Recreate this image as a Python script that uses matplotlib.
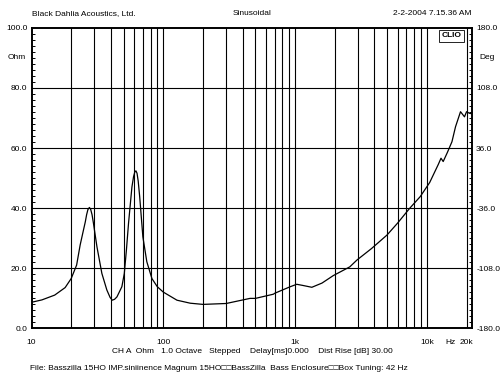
import matplotlib
matplotlib.use("Agg")
import matplotlib.pyplot as plt
from matplotlib.ticker import MultipleLocator, FixedLocator, NullFormatter

plt.rcParams['font.family'] = ['Liberation Sans', 'DejaVu Sans']

# impedance curve
freq = [10, 12, 15, 18, 20, 22, 23.4, 24.8, 25.6, 26.2, 26.8, 27.5, 28.1, 28.8, 29.5, 31.4,
        34.2, 37.3, 39.5, 41, 42.7, 44.5, 48.5, 50.6, 52.5, 54.5, 57.8, 59.5, 60.8, 62, 63.2,
        64.5, 66.2, 70, 75, 82, 90, 100, 127, 160, 200, 300, 455, 500, 685, 700, 920, 1030,
        1150, 1340, 1600, 1950, 2600, 2950, 3800, 4980, 6000, 7400, 8900, 10500, 12200,
        12800, 13300, 14300, 15500, 16500, 18000, 19300, 20000, 21000, 22000]
ohm = [8.6, 9.4, 11.0, 13.5, 16.5, 21.0, 27.7, 32.7, 35.4, 37.8, 39.5, 40.2, 39.6, 37.8, 35.0, 27.0,
       18.2, 12.7, 10.2, 9.3, 9.6, 10.4, 13.8, 18.2, 26.0, 35.0, 47.0, 50.5, 52.0, 52.4, 51.6,
       49.0, 43.8, 30.4, 22.1, 16.5, 13.8, 12.0, 9.3, 8.3, 7.9, 8.2, 9.9, 9.9, 11.3, 11.6, 13.8,
       14.6, 14.2, 13.6, 15.0, 17.5, 20.4, 22.7, 26.5, 31.0, 35.0, 39.9, 43.8, 48.5, 54.5,
       56.6, 55.5, 58.5, 62.1, 67.1, 72.1, 70.4, 72.1, 71.6, 71.4]

y_ticks = [0, 20, 40, 60, 80, 100]
deg_ticks = [-180, -108, -36, 36, 108, 180]
x_grid = [20, 30, 40, 50, 60, 70, 80, 90, 100, 200, 300, 400, 500, 600, 700, 800, 900,
          1000, 2000, 3000, 4000, 5000, 6000, 7000, 8000, 9000, 10000, 20000]
x_labels = {10: "10", 100: "100", 1000: "1k", 10000: "10k", 15000: "Hz", 20000: "20k"}

fig = plt.figure(figsize=(5.04, 3.78), dpi=100)
ax = fig.add_axes([0.0625, 0.132, 0.874, 0.794])
ax.set_xscale('log')
ax.set_xlim(10, 22000)
ax.set_ylim(0, 100)

for xv in x_grid:
    ax.axvline(xv, color='black', lw=0.8, zorder=1)
for yv in y_ticks[1:-1]:
    ax.axhline(yv, color='black', lw=0.8, zorder=1)

ax.plot(freq, ohm, color='black', lw=0.9, zorder=3)

for s in ax.spines.values():
    s.set_linewidth(1.2)

ax.xaxis.set_major_locator(FixedLocator([]))
ax.xaxis.set_minor_locator(FixedLocator([]))
ax.xaxis.set_minor_formatter(NullFormatter())
ax.yaxis.set_major_locator(FixedLocator(y_ticks))
ax.yaxis.set_minor_locator(MultipleLocator(2))
ax.set_yticklabels(["%.1f" % v for v in y_ticks], fontsize=6)
ax.tick_params(axis='y', which='minor', direction='in', length=2.5, width=0.7)
ax.tick_params(axis='y', which='major', length=0, pad=3)

ax2 = ax.twinx()
ax2.set_ylim(-180, 180)
ax2.yaxis.set_major_locator(FixedLocator(deg_ticks))
ax2.yaxis.set_minor_locator(MultipleLocator(7.2))
ax2.set_yticklabels(["%.1f" % v for v in deg_ticks], fontsize=6)
ax2.tick_params(axis='y', which='minor', direction='in', length=2.5, width=0.7)
ax2.tick_params(axis='y', which='major', length=0, pad=3)
for s in ax2.spines.values():
    s.set_linewidth(1.2)

for xv, t in x_labels.items():
    ax.text(xv, -3.5, t, ha='center', va='top', fontsize=6)

ax.text(-0.033, 0.9, "Ohm", transform=ax.transAxes, ha='center', va='center', fontsize=6)
ax2.text(1.035, 0.9, "Deg", transform=ax2.transAxes, ha='center', va='center', fontsize=6)

ax.text(0.977, 0.985, "CLIO", transform=ax.transAxes, ha='right', va='top', fontsize=6,
        fontweight='bold', zorder=5,
        bbox=dict(boxstyle='square,pad=0.3', facecolor='white', edgecolor='black', lw=0.6))

fig.text(0.063, 0.965, "Black Dahlia Acoustics, Ltd.", ha='left', va='center', fontsize=6)
fig.text(0.5, 0.965, "Sinusoidal", ha='center', va='center', fontsize=6)
fig.text(0.936, 0.965, "2-2-2004 7.15.36 AM", ha='right', va='center', fontsize=6)
fig.text(0.5, 0.069, "CH A  Ohm   1.0 Octave   Stepped    Delay[ms]0.000    Dist Rise [dB] 30.00",
         ha='center', va='center', fontsize=6)
fig.text(0.06, 0.026, "File: Basszilla 15HO IMP.siniinence Magnum 15HO\u25a1\u25a1BassZilla  Bass Enclosure\u25a1\u25a1Box Tuning: 42 Hz",
         ha='left', va='center', fontsize=6)

fig.savefig("out.png", dpi=100)
